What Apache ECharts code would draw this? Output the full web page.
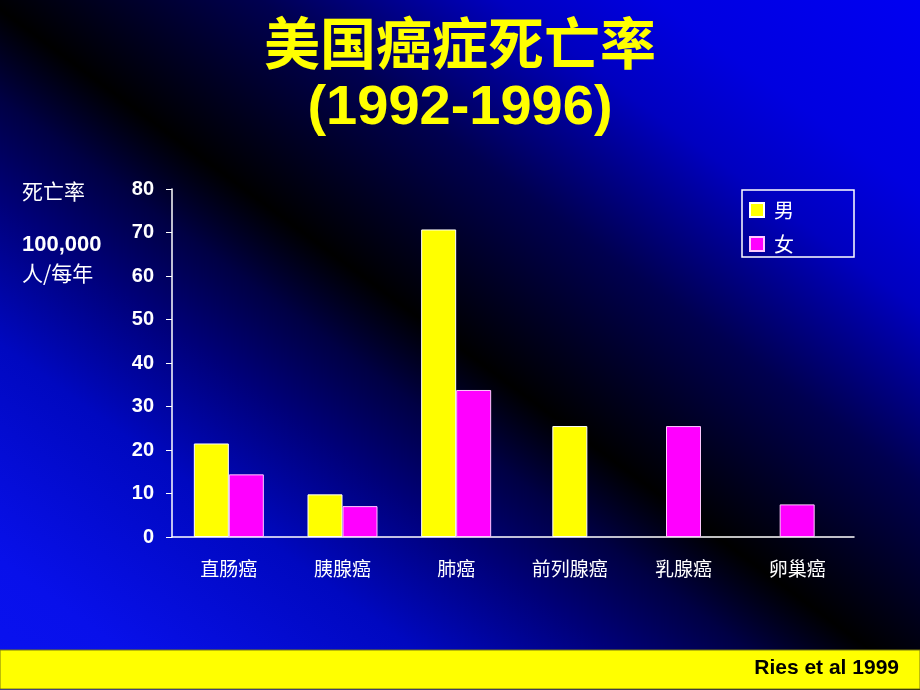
<!DOCTYPE html>
<html lang="zh">
<head>
<meta charset="UTF-8">
<title>美国癌症死亡率</title>
<style>
html, body { margin: 0; padding: 0; }
#chart { width: 920px; height: 690px; }
</style>
</head>
<body>
<div id="chart"></div>
<script src="https://cdn.jsdelivr.net/npm/echarts/dist/echarts.min.js"></script>
<script>
// data
var categories = ['直肠癌', '胰腺癌', '肺癌', '前列腺癌', '乳腺癌', '卵巢癌'];
var male = [21.5, 9.8, 70.7, 25.5, null, null];
var female = [14.4, 7.1, 33.8, null, 25.5, 7.5];
var seriesNames = ['男', '女'];
var yMin = 0, yMax = 80, yStep = 10;

// categories with both sexes get side-by-side bars, the others a single centred bar
var both = categories.map(function (c, i) { return male[i] != null && female[i] != null; });
function pick(arr, pair) {
    return arr.map(function (v, i) { return both[i] === pair ? v : null; });
}

var CJK = 'Noto Sans CJK SC';
var LATIN = 'Liberation Sans';
var styleM = { color: '#ffff00', borderColor: '#ffffff', borderWidth: 1 };
var styleF = { color: '#ff00ff', borderColor: '#ffc8ff', borderWidth: 1 };

var chart = echarts.init(document.getElementById('chart'));
chart.setOption({
    // blue - black - blue diagonal slide background
    backgroundColor: new echarts.graphic.LinearGradient(131, 795, 789, -99, [
        { offset: 0, color: '#0a12f2' },
        { offset: 0.1, color: '#0810ea' },
        { offset: 0.257, color: '#0008c0' },
        { offset: 0.362, color: '#000078' },
        { offset: 0.435, color: '#000044' },
        { offset: 0.5, color: '#000000' },
        { offset: 0.646, color: '#000050' },
        { offset: 0.774, color: '#0000c0' },
        { offset: 0.857, color: '#0000e0' },
        { offset: 1, color: '#0000f2' }
    ], true),
    title: [
        { text: '美国癌症死亡率', left: 'center', top: 10,
          textStyle: { color: '#ffff00', fontSize: 56, fontWeight: 'bold', fontFamily: CJK } },
        { text: '(1992-1996)', left: 'center', top: 76,
          textStyle: { color: '#ffff00', fontSize: 56, fontWeight: 'bold', fontFamily: LATIN } },
        { text: '死亡率', left: 17, top: 176,
          textStyle: { color: '#ffffff', fontSize: 21, fontWeight: 'normal', fontFamily: CJK } },
        { text: '100,000', left: 17, top: 229,
          textStyle: { color: '#ffffff', fontSize: 22, fontWeight: 'bold', fontFamily: LATIN } },
        { text: '人/每年', left: 17, top: 258,
          textStyle: { color: '#ffffff', fontSize: 21, fontWeight: 'normal', fontFamily: CJK } },
        { text: 'Ries et al 1999', right: 16, top: 653,
          textStyle: { color: '#000000', fontSize: 21, fontWeight: 'bold', fontFamily: LATIN } }
    ],
    graphic: [
        { type: 'rect', shape: { x: 0, y: 650, width: 920, height: 39 },
          style: { fill: '#ffff00', stroke: '#7a7a10', lineWidth: 1 } }
    ],
    legend: {
        data: seriesNames,
        orient: 'vertical',
        left: 742,
        top: 190,
        padding: [10, 60, 3, 7],
        itemGap: 14,
        itemWidth: 14,
        itemHeight: 14,
        icon: 'rect',
        borderColor: '#ffffff',
        borderWidth: 1.5,
        textStyle: { color: '#ffffff', fontSize: 20, fontFamily: CJK, padding: [0, 0, 0, 5] }
    },
    grid: { left: 172, right: 66, top: 189, bottom: 153 },
    xAxis: [
        {
            type: 'category',
            data: categories,
            axisLine: { show: true, lineStyle: { color: '#ffffff', width: 1.5 } },
            axisTick: { show: false },
            splitLine: { show: false },
            axisLabel: { color: '#ffffff', fontSize: 19, fontFamily: CJK, margin: 22 }
        },
        { type: 'category', data: categories, show: false }
    ],
    yAxis: {
        type: 'value',
        min: yMin,
        max: yMax,
        interval: yStep,
        axisLine: { show: true, lineStyle: { color: '#ffffff', width: 1.5 } },
        axisTick: { show: true, length: 6, lineStyle: { color: '#ffffff' } },
        splitLine: { show: false },
        axisLabel: { color: '#ffffff', fontSize: 20, fontWeight: 'bold', fontFamily: LATIN, margin: 18 }
    },
    series: [
        { name: seriesNames[0], type: 'bar', xAxisIndex: 0, data: pick(male, true),
          barWidth: 35, barGap: '0%', itemStyle: styleM },
        { name: seriesNames[1], type: 'bar', xAxisIndex: 0, data: pick(female, true),
          barWidth: 35, barGap: '0%', itemStyle: styleF },
        { name: seriesNames[0], type: 'bar', xAxisIndex: 1, stack: 'single', data: pick(male, false),
          barWidth: 35, itemStyle: styleM },
        { name: seriesNames[1], type: 'bar', xAxisIndex: 1, stack: 'single', data: pick(female, false),
          barWidth: 35, itemStyle: styleF }
    ]
});
</script>
</body>
</html>
